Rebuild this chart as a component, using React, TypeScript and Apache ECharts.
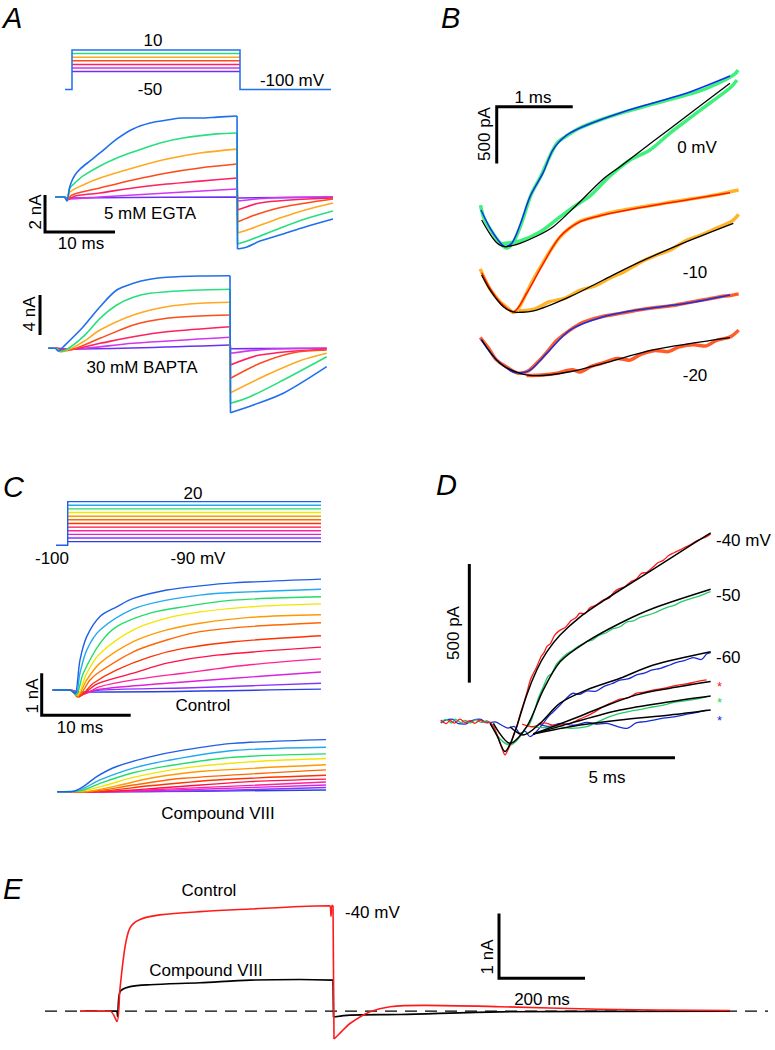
import React, { useEffect, useRef } from "react";
import * as echarts from "echarts";

type P = [number, number];
const FONT = '"Liberation Sans", Arial, Helvetica, sans-serif';

// ---------- Panel A : voltage protocol (mV) ----------
const aProtLevels = [-50, -40, -30, -20, -10, 0, 10];
const aProtHold = -100;
const aProtTimes = [-1, 0, 24, 37]; // ms : pre, on, off, end
const aColors = ["#6a30f5", "#d535f0", "#ff2060", "#ff4a1c", "#ffa820", "#26e07d", "#1f6ff0"];

// ---------- Panel A : 5 mM EGTA currents (ms, nA) ----------
const egtaPurple: P[] = [[-1.7, 0], [-0.4, 0], [0, -0.05], [24.29, 0], [24.36, -0.05], [38, 0]];
const egtaMagenta: P[] = [[-1.7, 0], [-0.4, 0], [0, -0.1], [4.71, 0], [14.29, 0.22], [24.29, 0.43], [24.36, -0.22], [29, -0.05], [38, 0]];
const egtaPink: P[] = [[-1.7, 0], [-0.4, 0], [0, -0.16], [1.14, 0.05], [4.71, 0.22], [9.43, 0.49], [14.29, 0.7], [19, 0.86], [24.29, 1.03], [24.36, -0.7], [27.57, -0.32], [31.86, -0.16], [38, -0.05]];
const egtaRed: P[] = [[-1.7, 0], [-0.4, 0], [0, -0.16], [0.71, 0.11], [4.71, 0.49], [9.43, 0.92], [14.29, 1.3], [19, 1.57], [24.29, 1.78], [24.36, -1.35], [26.86, -0.97], [30.86, -0.54], [38, -0.11]];
const egtaOrange: P[] = [[-1.7, 0], [-0.4, 0], [0, -0.16], [0.43, 0.27], [2.29, 0.65], [4.71, 1.03], [9.43, 1.57], [14.29, 2.05], [19, 2.38], [24.29, 2.59], [24.36, -1.95], [26.14, -1.73], [30.86, -1.08], [34, -0.7], [38, -0.32]];
const egtaGreen: P[] = [[-1.7, 0], [-0.4, 0], [0, -0.1], [0.43, 0.49], [1.14, 0.76], [2.29, 1.14], [4.71, 1.68], [7.14, 2.11], [9.43, 2.43], [13.29, 2.92], [16.57, 3.19], [21.43, 3.41], [24.29, 3.46], [24.36, -2.54], [26.14, -2.32], [30.86, -1.62], [34, -1.19], [38, -0.76]];
const egtaBlue: P[] = [[-1.7, 0], [-0.4, 0], [0, -0.22], [0.29, 0.38], [0.57, 0.76], [1.14, 1.19], [1.86, 1.51], [3.29, 1.95], [4.71, 2.38], [7.14, 3.14], [9.43, 3.68], [11.86, 4.0], [14.29, 4.16], [16.57, 4.27], [19, 4.27], [21.43, 4.32], [24.29, 4.38], [24.36, -2.81], [25.71, -2.7], [27.57, -2.38], [30.86, -2.0], [34, -1.62], [38, -1.19]];
const egtaScale: P[] = [[-3.14, 0.11], [-3.14, -1.89], [6.86, -1.89]]; // 2 nA, 10 ms

// ---------- Panel A : 30 mM BAPTA currents (ms, nA) ----------
const baptaPurple: P[] = [[-1.4, 0], [-0.4, 0], [1.24, -0.07], [24.57, 0.33], [24.64, -0.04], [38.39, 0]];
const baptaMagenta: P[] = [[-1.4, 0], [-0.4, 0], [1.24, -0.1], [10.76, 0.5], [24.57, 1.1], [24.64, -0.5], [29.81, -0.1], [38.39, 0]];
const baptaPink: P[] = [[-1.4, 0], [-0.4, 0], [1.24, -0.17], [6, 0.5], [10.76, 1.16], [15.53, 1.66], [24.57, 2.16], [24.64, -1.67], [28.86, -0.67], [38.39, -0.07]];
const baptaRed: P[] = [[-1.4, 0], [-0.4, 0], [0.76, -0.27], [6.0, 1.0], [10.76, 2.33], [15.53, 3.0], [20.29, 3.23], [24.57, 3.33], [24.64, -3.0], [28.86, -1.5], [33.61, -0.44], [38.39, -0.17]];
const baptaOrange: P[] = [[-1.4, 0], [-0.4, 0], [0.53, -0.34], [3.61, 0.66], [6.0, 1.83], [10.76, 3.33], [15.53, 4.16], [20.29, 4.5], [24.57, 4.6], [24.64, -4.44], [29.81, -2.67], [34.57, -1.24], [38.39, -0.5]];
const baptaGreen: P[] = [[-1.4, 0], [-0.4, 0], [0.29, -0.34], [3.61, 1.16], [6.0, 3.0], [8.39, 4.33], [10.76, 5.1], [13.14, 5.5], [17.9, 5.76], [24.57, 5.9], [24.64, -5.5], [27.43, -4.84], [32.19, -3.17], [38.39, -0.84]];
const baptaBlue: P[] = [[-1.4, 0], [-0.4, 0], [0.04, -0.27], [0.76, 0.16], [3.61, 2.16], [6.0, 4.16], [8.39, 5.83], [10.76, 6.5], [13.14, 6.9], [15.53, 7.1], [20.29, 7.23], [24.57, 7.26], [24.64, -6.44], [27.9, -5.67], [32.19, -4.5], [38.39, -1.84]];
const baptaScale: P[] = [[-2.57, 5.33], [-2.57, 1.33]]; // 4 nA

// ---------- Panel B (ms, pA, traces offset) ----------
const bGreenData0a: P[] = [[-0.007, 1543], [0.039, 1429], [0.145, 1305], [0.25, 1208], [0.342, 1164], [0.434, 1226], [0.539, 1394], [0.658, 1632], [0.789, 1799], [0.895, 1958], [1.0, 2090], [1.105, 2143], [1.303, 2223], [1.566, 2293], [1.895, 2364], [2.224, 2426], [2.553, 2487], [2.882, 2549], [3.211, 2646], [3.342, 2699], [3.382, 2734]];
const bGreenData0b: P[] = [[0.25, 1200], [0.513, 1226], [0.776, 1305], [1.039, 1438], [1.237, 1535], [1.434, 1623], [1.697, 1799], [1.961, 1940], [2.224, 2029], [2.487, 2178], [2.75, 2311], [3.013, 2443], [3.276, 2575], [3.368, 2646]];
const bBlueFit0: P[] = [[0, 1499], [0.118, 1341], [0.224, 1235], [0.316, 1176], [0.408, 1208], [0.513, 1367], [0.645, 1617], [0.816, 1826], [0.947, 2029], [1.132, 2161], [1.395, 2249], [1.829, 2355], [2.263, 2443], [2.711, 2531], [3.276, 2681]];
const bBlackFit0: P[] = [[0.009, 1411], [0.118, 1288], [0.211, 1208], [0.316, 1176], [0.513, 1206], [0.737, 1270], [0.951, 1352], [1.259, 1544], [1.609, 1773], [1.829, 1881], [2.267, 2105], [2.707, 2328], [3.276, 2617]];
const bOrangeData10a: P[] = [[-0.01, 980], [0.05, 890], [0.12, 800], [0.25, 690], [0.36, 630], [0.43, 595], [0.5, 640], [0.6, 770], [0.7, 900], [0.82, 1040], [0.95, 1180], [1.04, 1260], [1.15, 1330], [1.3, 1400], [1.45, 1430], [1.61, 1460], [1.8, 1490], [2.05, 1520], [2.3, 1545], [2.5, 1570], [2.7, 1590], [2.95, 1615], [3.15, 1640], [3.28, 1660], [3.39, 1675]];
const bOrangeData10b: P[] = [[0.5, 610], [0.7, 625], [0.9, 690], [1.1, 720], [1.3, 790], [1.5, 830], [1.7, 900], [1.9, 960], [2.1, 1040], [2.3, 1100], [2.5, 1150], [2.7, 1230], [2.9, 1280], [3.1, 1340], [3.3, 1400], [3.39, 1460]];
const bRedFit10: P[] = [[0.009, 946], [0.118, 811], [0.25, 688], [0.425, 602], [0.601, 765], [0.82, 1029], [1.039, 1264], [1.303, 1396], [1.609, 1455], [2.049, 1514], [2.707, 1588], [3.276, 1652]];
const bBlackFit10: P[] = [[0.009, 926], [0.118, 794], [0.293, 647], [0.47, 597], [0.733, 617], [1.171, 735], [1.609, 882], [2.049, 1029], [2.707, 1220], [3.32, 1382]];
const bRedData20a: P[] = [[-0.01, 375], [0.1, 280], [0.2, 180], [0.35, 110], [0.5, 60], [0.62, 80], [0.75, 160], [0.86, 240], [1.0, 350], [1.17, 440], [1.35, 510], [1.6, 560], [1.85, 590], [2.05, 615], [2.3, 640], [2.5, 655], [2.7, 680], [2.95, 710], [3.15, 735], [3.28, 745], [3.39, 760]];
const bRedData20b: P[] = [[0.6, 40], [0.8, 45], [1.0, 60], [1.2, 90], [1.3, 70], [1.45, 120], [1.6, 150], [1.8, 190], [1.95, 175], [2.1, 225], [2.3, 260], [2.45, 250], [2.6, 290], [2.8, 310], [2.95, 300], [3.1, 350], [3.28, 380], [3.39, 440]];
const bBlueFit20: P[] = [[0, 359], [0.207, 176], [0.47, 64], [0.645, 88], [0.864, 235], [1.171, 441], [1.609, 558], [2.049, 617], [2.707, 677], [3.276, 750]];
const bBlackFit20: P[] = [[0.009, 353], [0.25, 147], [0.513, 59], [0.733, 38], [1.171, 73], [1.609, 147], [2.267, 265], [3.276, 373]];
const bScale: P[] = [[1.207, 2410], [0.207, 2410], [0.207, 1910]]; // 1 ms, 500 pA

// ---------- Panel C : protocol ----------
const cProtLevels = [-90, -80, -70, -60, -50, -40, -30, -20, -10, 0, 10, 20];
const cProtTimes = [-1.31, 0, 28.46];
const cColors = ["#2a3fe0", "#8833ff", "#dd22dd", "#ff2299", "#ff1144", "#ff3300", "#ff6600", "#ff9900", "#f2e600", "#22dd66", "#22aaf0", "#1f5fe6"];

// ---------- Panel C : Control (ms, nA) ----------
const ctlTraces: P[][] = [
  [[-1.94, 0], [0, 0], [1.12, -0.05], [28.2, 0.02]],
  [[-1.94, 0], [0, 0], [1.12, -0.07], [3.37, 0], [14.61, 0.06], [28.2, 0.16]],
  [[-1.94, 0], [0, 0], [1.12, -0.1], [3.37, 0.02], [10.87, 0.16], [18.35, 0.28], [28.2, 0.43]],
  [[-1.94, 0], [0, 0], [1.12, -0.12], [3.37, 0.08], [7.11, 0.24], [12.73, 0.4], [20.22, 0.6], [28.2, 0.74]],
  [[-1.94, 0], [0, 0], [1.01, -0.14], [3.0, 0.14], [7.11, 0.4], [10.87, 0.64], [16.48, 0.83], [28.2, 1.02]],
  [[-1.94, 0], [0, 0], [0.9, -0.17], [2.62, 0.16], [5.25, 0.48], [8.99, 0.79], [12.73, 0.99], [18.35, 1.15], [28.2, 1.29]],
  [[-1.94, 0], [0, 0], [0.9, -0.14], [2.25, 0.24], [3.37, 0.44], [7.11, 0.91], [10.87, 1.19], [14.61, 1.39], [20.22, 1.51], [28.2, 1.6]],
  [[-1.94, 0], [0, 0], [0.79, -0.14], [1.88, 0.24], [3.37, 0.64], [7.11, 1.15], [10.87, 1.43], [14.61, 1.59], [20.22, 1.73], [28.2, 1.79]],
  [[-1.94, 0], [0, 0], [0.79, -0.12], [1.88, 0.4], [3.37, 0.87], [7.11, 1.43], [10.87, 1.71], [14.61, 1.86], [20.22, 1.98], [28.2, 2.05]],
  [[-1.94, 0], [0, 0], [0.67, -0.12], [1.49, 0.4], [3.37, 1.11], [5.25, 1.51], [8.99, 1.83], [12.73, 1.98], [18.35, 2.14], [28.2, 2.22]],
  [[-1.94, 0], [0, 0], [0.67, -0.1], [1.12, 0.4], [1.88, 0.95], [3.37, 1.43], [7.11, 1.93], [10.87, 2.14], [14.61, 2.26], [18.35, 2.32], [28.2, 2.4]],
  [[-1.94, 0], [0, 0], [0.56, -0.08], [1.12, 0.71], [1.88, 1.27], [3.37, 1.75], [5.25, 1.98], [7.11, 2.18], [10.87, 2.38], [14.61, 2.48], [18.35, 2.55], [28.2, 2.64]],
];
const ctlScale: P[] = [[-3.18, 0.4], [-3.18, -0.6], [6.82, -0.6]]; // 1 nA, 10 ms

// ---------- Panel C : Compound VIII (ms, nA) ----------
const cmpTraces: P[][] = [
  [[-1.43, 0], [3.37, 0], [28.76, 0.04]],
  [[-1.43, 0], [3.37, 0], [14.61, 0.02], [28.76, 0.1]],
  [[-1.43, 0], [3.37, 0], [14.61, 0.06], [28.76, 0.16]],
  [[-1.43, 0], [3.37, 0], [12.73, 0.08], [28.76, 0.23]],
  [[-1.43, 0], [2.62, 0], [10.87, 0.1], [20.22, 0.24], [28.76, 0.3]],
  [[-1.43, 0], [2.25, 0], [8.99, 0.14], [16.48, 0.28], [28.76, 0.39]],
  [[-1.43, 0], [1.88, 0], [7.11, 0.16], [12.73, 0.32], [28.76, 0.52]],
  [[-1.43, 0], [1.49, 0], [5.25, 0.14], [8.99, 0.32], [14.61, 0.48], [28.76, 0.64]],
  [[-1.43, 0], [1.31, 0.02], [4.12, 0.16], [7.11, 0.34], [12.73, 0.56], [20.22, 0.71], [28.76, 0.79]],
  [[-1.43, 0], [1.12, 0.02], [3.37, 0.2], [7.11, 0.45], [10.87, 0.61], [18.35, 0.82], [28.76, 0.9]],
  [[-1.43, 0], [0.75, 0.02], [3.37, 0.28], [7.11, 0.56], [10.87, 0.74], [18.35, 0.98], [28.76, 1.06]],
  [[-1.43, 0], [0.19, 0], [1.49, 0.12], [3.0, 0.36], [5.25, 0.6], [8.99, 0.83], [12.73, 0.99], [18.35, 1.15], [28.76, 1.24]],
];

// ---------- Panel D (ms, pA) ----------
const dRed40: P[] = [[0, 7], [0.2, -8], [0.34, 5], [0.5, -6], [0.71, 11], [0.9, -3], [1.08, 4], [1.25, -7], [1.45, 7], [1.6, -2], [1.75, -1], [1.95, -20], [2.08, -56], [2.25, -110], [2.37, -140], [2.48, -118], [2.59, -90], [2.7, -50], [2.8, -21], [2.95, 40], [3.05, 75], [3.17, 120], [3.3, 175], [3.42, 205], [3.54, 232], [3.7, 275], [3.8, 290], [3.91, 316], [4.05, 330], [4.2, 365], [4.4, 386], [4.6, 398], [4.8, 425], [5.0, 440], [5.13, 457], [5.3, 455], [5.5, 480], [5.7, 490], [5.99, 513], [6.2, 520], [6.4, 548], [6.61, 562], [6.8, 570], [7.0, 590], [7.2, 600], [7.4, 625], [7.6, 630], [7.84, 653], [8.0, 670], [8.2, 680], [8.4, 700], [8.6, 712], [8.82, 724], [9.0, 735], [9.2, 745], [9.4, 760], [9.6, 770], [9.8, 780], [9.95, 791]];
const dGreen50: P[] = [[0, -1], [0.2, 10], [0.4, -6], [0.53, 11], [0.75, -4], [0.9, 6], [1.08, -5], [1.3, 8], [1.5, -3], [1.7, 4], [1.82, -7], [1.98, -35], [2.12, -63], [2.3, -85], [2.55, -98], [2.75, -85], [2.92, -63], [3.1, -30], [3.29, -7], [3.45, 45], [3.6, 100], [3.78, 147], [3.95, 190], [4.1, 205], [4.25, 240], [4.4, 260], [4.6, 282], [4.85, 300], [5.1, 320], [5.38, 337], [5.6, 345], [5.85, 365], [6.1, 375], [6.35, 392], [6.61, 400], [6.85, 420], [7.1, 425], [7.35, 440], [7.6, 448], [7.84, 457], [8.1, 470], [8.35, 482], [8.6, 490], [8.85, 505], [9.07, 513], [9.3, 522], [9.55, 530], [9.75, 540], [9.95, 548]];
const dBlue60: P[] = [[0, -5], [0.2, 8], [0.42, 11], [0.65, -8], [0.9, -10], [1.15, 5], [1.45, 11], [1.7, -5], [2.0, -1], [2.25, -15], [2.48, -27], [2.7, -20], [2.92, -49], [3.1, -40], [3.29, -63], [3.5, -45], [3.78, -7], [3.95, 20], [4.14, 41], [4.4, 70], [4.6, 95], [4.89, 120], [5.1, 115], [5.4, 130], [5.7, 128], [5.99, 147], [6.3, 160], [6.6, 175], [6.9, 180], [7.22, 197], [7.5, 205], [7.8, 218], [8.1, 225], [8.45, 239], [8.7, 250], [9.0, 258], [9.3, 270], [9.6, 262], [9.8, 285], [9.95, 291]];
const dRedStar: P[] = [[3.0, -10], [3.41, -21], [3.8, -5], [4.2, -15], [4.77, -7], [5.1, 10], [5.5, 30], [5.99, 63], [6.3, 80], [6.6, 95], [6.9, 100], [7.22, 120], [7.5, 125], [7.9, 135], [8.2, 140], [8.45, 147], [8.8, 155], [9.1, 160], [9.4, 168], [9.8, 176]];
const dGreenStar: P[] = [[3.29, -21], [3.8, -25], [4.3, -20], [4.8, -28], [5.38, -21], [5.8, 0], [6.2, 20], [6.61, 35], [7.0, 45], [7.4, 52], [7.84, 63], [8.2, 70], [8.6, 82], [9.0, 88], [9.4, 95], [9.8, 105]];
const dBlueStar: P[] = [[3.6, -10], [4.0, -20], [4.4, -7], [4.9, -15], [5.4, -3], [5.8, -10], [6.12, -7], [6.5, -20], [6.86, -28], [7.2, -5], [7.5, 0], [7.84, 7], [8.2, 15], [8.6, 20], [9.0, 30], [9.4, 38], [9.8, 49]];
const dFit40: P[] = [[1.82, -7], [2.08, -60], [2.37, -126], [2.59, -86], [2.8, -21], [3.17, 113], [3.54, 218], [3.91, 294], [4.4, 365], [5.13, 441], [5.99, 509], [6.61, 555], [7.84, 643], [8.82, 715], [9.95, 796]];
const dFit50: P[] = [[1.94, -7], [2.55, -91], [3.17, -21], [3.78, 134], [4.4, 253], [5.38, 337], [6.61, 415], [7.84, 478], [9.95, 558]];
const dFit60: P[] = [[2.55, -21], [3.04, -56], [3.66, -7], [4.4, 78], [5.38, 134], [6.61, 183], [7.84, 239], [9.95, 295]];
const dFitRedStar: P[] = [[3.41, -52], [4.77, 7], [5.99, 63], [7.22, 113], [8.45, 141], [9.95, 169]];
const dFitGreenStar: P[] = [[3.41, -52], [4.77, -7], [6.61, 49], [8.45, 84], [9.95, 108]];
const dFitBlueStar: P[] = [[3.41, -52], [4.77, -21], [6.61, 7], [8.45, 28], [9.95, 49]];
const dScaleV: P[] = [[1.054, 664.6], [1.054, 164.6]]; // 500 pA
const dScaleH: P[] = [[3.634, -151.7], [8.634, -151.7]]; // 5 ms

// ---------- Panel E (ms, nA) ----------
const eControl: P[] = [[-87.2, 0], [-17.4, 0], [-1.2, -0.16], [5.8, 0.35], [17.4, 0.99], [29.1, 1.29], [52.3, 1.42], [98.8, 1.49], [191.9, 1.54], [308.1, 1.58], [424.4, 1.62], [494.2, 1.63], [496.5, 1.47], [498.8, 1.64], [501.2, 1.63], [503.5, -0.43], [517.4, -0.34], [540.7, -0.19], [587.2, -0.01], [633.7, 0.07], [715.1, 0.09], [889.5, 0.07], [1122.1, 0.03], [1424.4, 0.01]];
const eCompound: P[] = [[-87.2, 0], [-2.3, 0], [0, -0.08], [5.8, 0.3], [29.1, 0.38], [75.6, 0.41], [191.9, 0.44], [308.1, 0.48], [424.4, 0.49], [501.2, 0.48], [502.3, -0.09], [540.7, -0.06], [657, -0.05], [889.5, -0.01], [1424.4, 0]];
const eZero: P[] = [[-168.6, 0], [1512.8, 0]];
const eScale: P[] = [[887.2, 1.51], [887.2, 0.51], [1087.2, 0.51]]; // 1 nA, 200 ms

// ---------- layout ----------
const grids = [
  { l: 58, t: 46.4, w: 280, h: 46.8, x: [-2, 38], y: [-110, 20] },
  { l: 39, t: 104.5, w: 301, h: 148, x: [-4, 39], y: [-3, 5] },
  { l: 30, t: 268.3, w: 301, h: 150, x: [-4, 39], y: [-7, 8] },
  { l: 443, t: 62.5, w: 323, h: 340.2, x: [-0.5, 3.75], y: [-200, 2800] },
  { l: 32.1, t: 498, w: 302.6, h: 50.9, x: [-4, 30], y: [-110, 30] },
  { l: 34.4, t: 564, w: 302.6, h: 189, x: [-4, 30], y: [-1.5, 3] },
  { l: 34.4, t: 728.7, w: 302.6, h: 84, x: [-4, 30], y: [-0.5, 1.5] },
  { l: 413.6, t: 484.4, w: 352.7, h: 308.5, x: [-1, 12], y: [-300, 1000] },
  { l: 31.5, t: 881.9, w: 739.6, h: 176, x: [-200, 1520], y: [-0.6, 2] },
];

type Lbl = { t: string; x: number; y: number; a?: string; r?: number; c?: string; s?: number; it?: boolean };
const labels: Lbl[] = [
  { t: "A", x: 3, y: 18, a: "left", s: 29, it: true },
  { t: "B", x: 441, y: 18, a: "left", s: 29, it: true },
  { t: "C", x: 3, y: 487, a: "left", s: 29, it: true },
  { t: "D", x: 436, y: 485, a: "left", s: 29, it: true },
  { t: "E", x: 3, y: 889, a: "left", s: 29, it: true },
  { t: "10", x: 153, y: 40 },
  { t: "-50", x: 150, y: 89 },
  { t: "-100 mV", x: 292, y: 80 },
  { t: "2 nA", x: 35, y: 212, r: Math.PI / 2 },
  { t: "5 mM EGTA", x: 150, y: 213 },
  { t: "10 ms", x: 81, y: 243 },
  { t: "4 nA", x: 29, y: 314, r: Math.PI / 2 },
  { t: "30 mM BAPTA", x: 142, y: 367 },
  { t: "1 ms", x: 533, y: 97 },
  { t: "500 pA", x: 484, y: 134, r: Math.PI / 2 },
  { t: "0 mV", x: 697, y: 147 },
  { t: "-10", x: 695, y: 272 },
  { t: "-20", x: 695, y: 375 },
  { t: "20", x: 193, y: 493 },
  { t: "-100", x: 52, y: 558 },
  { t: "-90 mV", x: 198, y: 558 },
  { t: "1 nA", x: 32, y: 696, r: Math.PI / 2 },
  { t: "Control", x: 203, y: 705 },
  { t: "10 ms", x: 80, y: 727 },
  { t: "Compound VIII", x: 218, y: 813 },
  { t: "500 pA", x: 453, y: 633, r: Math.PI / 2 },
  { t: "5 ms", x: 607, y: 777 },
  { t: "-40 mV", x: 716, y: 540, a: "left" },
  { t: "-50", x: 716, y: 595, a: "left" },
  { t: "-60", x: 716, y: 657, a: "left" },
  { t: "*", x: 717, y: 686, a: "left", c: "#ff1a1a", s: 13 },
  { t: "*", x: 717, y: 702, a: "left", c: "#22dd44", s: 13 },
  { t: "*", x: 717, y: 720, a: "left", c: "#1a2ad6", s: 13 },
  { t: "Control", x: 209, y: 890 },
  { t: "Compound VIII", x: 206, y: 970 },
  { t: "-40 mV", x: 345, y: 912, a: "left" },
  { t: "1 nA", x: 487, y: 957, r: Math.PI / 2 },
  { t: "200 ms", x: 542, y: 999 },
];

function ln(g: number, data: P[], color: string, width = 1.5, extra: any = {}) {
  return {
    type: "line",
    xAxisIndex: g,
    yAxisIndex: g,
    data,
    symbol: "none",
    showSymbol: false,
    clip: false,
    silent: true,
    smooth: extra.smooth ?? false,
    lineStyle: { color, width, join: extra.smooth ? "round" : "miter", cap: "butt", ...(extra.ls || {}) },
    z: 2,
  };
}
const S = { smooth: 0.3 };

// a stepped trace: smooth the parts on either side of the largest vertical jump,
// join them with a straight segment
function stepped(g: number, d: P[], color: string, width: number): any[] {
  const span = d[d.length - 1][0] - d[0][0];
  let best = -1;
  let bestDy = 0;
  for (let i = 0; i < d.length - 1; i++) {
    const dx = d[i + 1][0] - d[i][0];
    const dy = Math.abs(d[i + 1][1] - d[i][1]);
    if (dx < 0.03 * span && dy > bestDy) {
      bestDy = dy;
      best = i;
    }
  }
  if (best < 0) return [ln(g, d, color, width, S)];
  return [
    ln(g, d.slice(0, best + 1), color, width, S),
    ln(g, [d[best], d[best + 1]], color, width),
    ln(g, d.slice(best + 1), color, width, S),
  ];
}

export default function App() {
  const ref = useRef<HTMLDivElement>(null);
  useEffect(() => {
    if (!ref.current) return;
    const chart = echarts.init(ref.current, undefined, { renderer: "svg" });
    const series: any[] = [];
    // A protocol
    const [tPre, tOn, tOff, tEnd] = aProtTimes;
    aProtLevels.forEach((v, i) => {
      const top = i === aProtLevels.length - 1;
      const d: P[] = top
        ? [[tPre, aProtHold], [tOn, aProtHold], [tOn, v], [tOff, v], [tOff, aProtHold], [tEnd, aProtHold]]
        : [[tOn, v], [tOff, v]];
      series.push(ln(0, d, aColors[i], 1.5));
    });
    [egtaPurple, egtaMagenta, egtaPink, egtaRed, egtaOrange, egtaGreen, egtaBlue].forEach((d, i) => series.push(...stepped(1, d, aColors[i], 1.6)));
    series.push(ln(1, egtaScale, "#000", 3));
    [baptaPurple, baptaMagenta, baptaPink, baptaRed, baptaOrange, baptaGreen, baptaBlue].forEach((d, i) => series.push(...stepped(2, d, aColors[i], 1.6)));
    series.push(ln(2, baptaScale, "#000", 3));
    // B
    series.push(ln(3, bGreenData0a, "#3ef07c", 3.5, S));
    series.push(ln(3, bGreenData0b, "#3ef07c", 3.5, S));
    series.push(ln(3, bOrangeData10a, "#ffb428", 3.5, S));
    series.push(ln(3, bOrangeData10b, "#ffb428", 3.5, S));
    series.push(ln(3, bRedData20a, "#ff5a28", 3.5, S));
    series.push(ln(3, bRedData20b, "#ff5a28", 3.5, S));
    series.push(ln(3, bBlueFit0, "#1030f0", 1.5, S));
    series.push(ln(3, bBlackFit0, "#000", 1.3, S));
    series.push(ln(3, bRedFit10, "#ff1a00", 1.5, S));
    series.push(ln(3, bBlackFit10, "#000", 1.3, S));
    series.push(ln(3, bBlueFit20, "#1030f0", 1.5, S));
    series.push(ln(3, bBlackFit20, "#000", 1.3, S));
    series.push(ln(3, bScale, "#000", 3));
    // C protocol
    const [cPre, cOn, cEnd] = cProtTimes;
    cProtLevels.forEach((v, i) => {
      const top = i === cProtLevels.length - 1;
      const d: P[] = top ? [[cPre, -100], [cOn, -100], [cOn, v], [cEnd, v]] : [[cOn, v], [cEnd, v]];
      series.push(ln(4, d, cColors[i], 1.4));
    });
    ctlTraces.forEach((d, i) => series.push(ln(5, d, cColors[i], 1.4, S)));
    series.push(ln(5, ctlScale, "#000", 3));
    cmpTraces.forEach((d, i) => series.push(ln(6, d, cColors[i], 1.4, S)));
    // D
    series.push(ln(7, dBlue60, "#1a2ad6", 1.3, S));
    series.push(ln(7, dGreen50, "#22cc66", 1.3, S));
    series.push(ln(7, dRed40, "#ff1a1a", 1.3, S));
    series.push(ln(7, dBlueStar, "#1a2ad6", 1.3, S));
    series.push(ln(7, dGreenStar, "#22cc66", 1.3, S));
    series.push(ln(7, dRedStar, "#ff1a1a", 1.3, S));
    [dFit40, dFit50, dFit60, dFitRedStar, dFitGreenStar, dFitBlueStar].forEach((d) => series.push(ln(7, d, "#000", 1.5, S)));
    series.push(ln(7, dScaleV, "#000", 3));
    series.push(ln(7, dScaleH, "#000", 3));
    // E
    series.push(ln(8, eZero, "#000", 1.2, { ls: { type: [12, 8] } }));
    series.push(...stepped(8, eCompound, "#000", 1.6));
    series.push(...stepped(8, eControl, "#ff1a1a", 1.6));
    series.push(ln(8, eScale, "#000", 3));

    const option: any = {
      animation: false,
      backgroundColor: "#fff",
      grid: grids.map((g) => ({ left: g.l, top: g.t, width: g.w, height: g.h, show: false })),
      xAxis: grids.map((g, i) => ({ type: "value", gridIndex: i, min: g.x[0], max: g.x[1], show: false })),
      yAxis: grids.map((g, i) => ({ type: "value", gridIndex: i, min: g.y[0], max: g.y[1], show: false })),
      series,
      graphic: {
        elements: labels.map((l) => ({
          type: "text",
          x: l.x,
          y: l.y,
          rotation: l.r || 0,
          silent: true,
          style: {
            text: l.t,
            fill: l.c || "#000",
            font: `${l.it ? "italic " : ""}${l.s || 17}px ${FONT}`,
            align: l.a || "center",
            verticalAlign: "middle",
          },
        })),
      },
    };
    chart.setOption(option);
    return () => chart.dispose();
  }, []);
  return <div ref={ref} style={{ position: "absolute", left: 0, top: 0, width: 775, height: 1050 }} />;
}
